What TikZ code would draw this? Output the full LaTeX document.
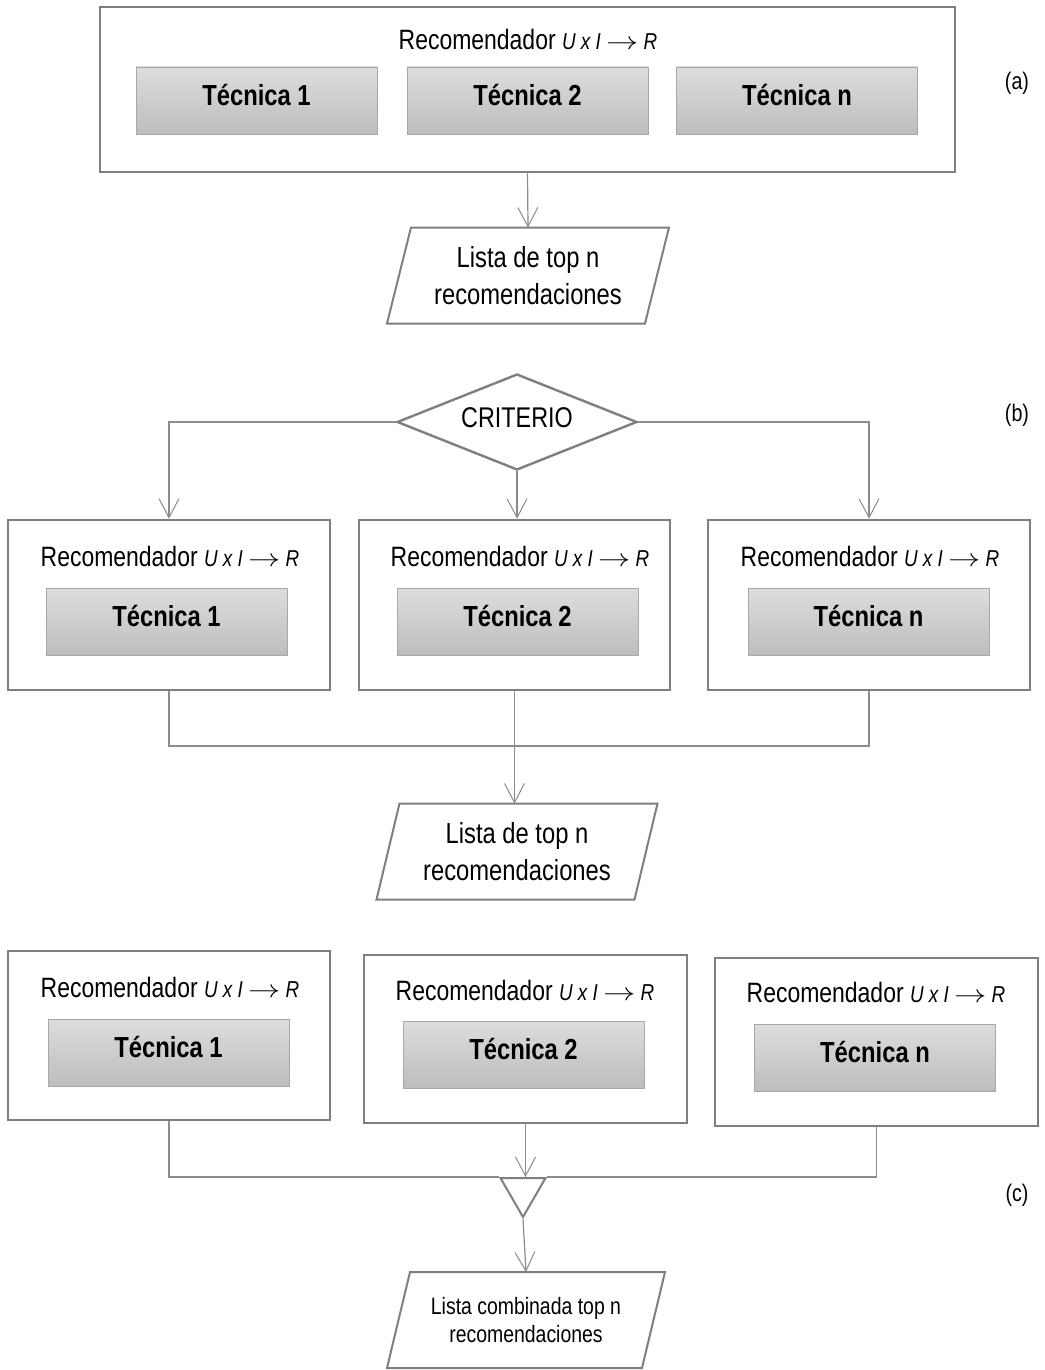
\documentclass[tikz,border=0pt]{standalone}
\usepackage{fontspec}
\setmainfont{Liberation Sans}[FakeStretch=0.82]
\usetikzlibrary{arrows.meta,calc,shapes.geometric}

\definecolor{edge}{HTML}{7F7F7F}
\definecolor{wire}{HTML}{8C8C8C}
\definecolor{techtop}{HTML}{DDDDDD}
\definecolor{techbot}{HTML}{BDBDBD}
\definecolor{techedge}{HTML}{A8A8A8}

% "Recomendador U x I -> R" heading used by every recommender box
\newcommand\recsig{\fontsize{28}{32}\selectfont Recomendador
  {\fontsize{23}{27}\selectfont\itshape U x I \scalebox{1.3}[1]{$\rightarrow$} R}}

\begin{document}
\begin{tikzpicture}[x=1pt,y=-1pt,
  recbox/.style={draw=edge, line width=2.6pt, fill=white, inner sep=0pt, minimum height=170},
  tech/.style={draw=techedge, line width=0.9pt, top color=techtop, bottom color=techbot,
    minimum width=241, minimum height=67, inner sep=0pt, text height=20pt, text depth=10.6pt,
    font=\fontsize{29}{33}\selectfont\bfseries},
  title/.style={inner sep=0pt, anchor=center},
  listbox/.style={minimum width=258, minimum height=96, inner sep=0pt, outer sep=0pt,
    align=center, font=\fontsize{29}{37}\selectfont},
  tag/.style={font=\fontsize{24}{28}\selectfont, inner sep=0pt},
  wire/.style={draw=wire, line width=1.2pt},
  flow/.style={wire, -{Straight Barb[length=19pt, width=20pt, line width=1pt]}},
  shapeline/.style={draw=edge, line width=2.4pt}
]
\useasboundingbox[fill=white] (0,0) rectangle (1044,1370);

% ---------------- (a) one recommender holding all techniques
\node[recbox, minimum width=855, minimum height=165] (ra) at (527.5,89.5) {};
\node[title] (ta) at (528,39) {\recsig};
\node[tech] (a1) at (256.5,100.5) {Técnica 1};
\node[tech] (a2) at (527.5,100.5) {Técnica 2};
\node[tech] (a3) at (797,100.5) {Técnica n};
\node[tag] (taga) at (1017,83) {(a)};
\node[listbox] (la) at (528,275.5) {Lista de top n\\recomendaciones};
\draw[flow] (ra.south) -- (la.north);

% ---------------- (b) a criterion chooses one recommender
\node[shapeline, shape=diamond, minimum width=240, minimum height=96, inner sep=0pt]
  (crit) at (517,422) {};
\node[inner sep=0pt, text height=20pt, text depth=10pt, font=\fontsize{28.5}{32}\selectfont]
  (critlabel) at (crit.center) {CRITERIO};
\node[tag] (tagb) at (1017,415) {(b)};

\node[recbox, minimum width=322] (b1) at (169,605) {};
\node[recbox, minimum width=311] (b2) at (514.5,605) {};
\node[recbox, minimum width=322] (b3) at (869,605) {};
\node[title] (tb1) at (170,556.5) {\recsig};
\node[title] (tb2) at (520,556.5) {\recsig};
\node[title] (tb3) at (870,556.5) {\recsig};
\node[tech] (t1) at (166.5,622) {Técnica 1};
\node[tech] (t2) at (517.5,622) {Técnica 2};
\node[tech] (t3) at (868.5,622) {Técnica n};

\draw[flow] (crit.west) -| (b1.north);
\draw[flow] (crit.east) -| (b3.north);
\draw[flow] (crit.south) -- (crit.south |- b2.north);

\coordinate (jb) at (514.5,746);
\node[listbox] (lb) at (517,851.5) {Lista de top n\\recomendaciones};
\draw[wire] (b1.south) |- (jb) -| (b3.south);
\draw[flow] (b2.south) -- (b2.south |- lb.north);

% ---------------- (c) all recommenders combined
\node[recbox, minimum width=322, minimum height=169] (c1) at (169,1035.5) {};
\node[recbox, minimum width=323, minimum height=168] (c2) at (525.5,1039) {};
\node[recbox, minimum width=323, minimum height=168] (c3) at (876.5,1042) {};
\node[title] (tc1) at (170,987.5) {\recsig};
\node[title] (tc2) at (525,990.5) {\recsig};
\node[title] (tc3) at (876,992.5) {\recsig};
\node[tech] (u1) at (168.5,1052.5) {Técnica 1};
\node[tech] (u2) at (523.5,1054.5) {Técnica 2};
\node[tech] (u3) at (875,1057.5) {Técnica n};
\node[tag] (tagc) at (1017,1195) {(c)};

\node[shapeline, line width=2pt, regular polygon, regular polygon sides=3,
  shape border rotate=180, minimum size=52, inner sep=0pt] (tri) at (523,1191) {};
\draw[wire] (c1.south) |- (tri.corner 3);
\draw[wire] (c3.south) |- (tri.corner 2);
\draw[flow] (c2.south) -- (c2.south |- tri.north);

\node[listbox, minimum width=255, font=\fontsize{23.7}{28}\selectfont] (lc) at (526,1320)
  {Lista combinada top n\\recomendaciones};
\draw[flow] (tri.corner 1) -- (lc.north);

% slanted outlines of the three output lists
\foreach \n/\s in {la/12,lb/11.5,lc/11.5}
  \draw[shapeline, line width=2pt, line join=miter]
    ($(\n.north west)+(\s,0)$) -- ($(\n.north east)+(\s,0)$) --
    ($(\n.south east)+(-\s,0)$) -- ($(\n.south west)+(-\s,0)$) -- cycle;
\end{tikzpicture}
\end{document}
